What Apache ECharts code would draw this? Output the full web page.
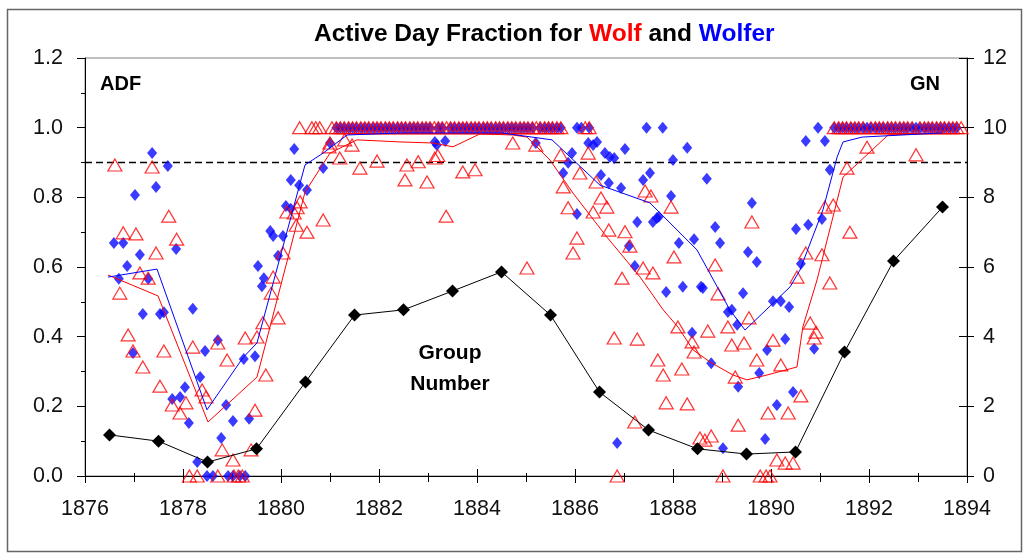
<!DOCTYPE html>
<html>
<head>
<meta charset="utf-8">
<script src="https://cdn.jsdelivr.net/npm/echarts@6/dist/echarts.min.js"></script>
<style>
  html, body { margin: 0; padding: 0; background: #fff; }
  #chart { width: 1030px; height: 554px; }
</style>
</head>
<body>
<div id="chart"></div>
<script>
// Monthly active day fraction, Wolf (red triangles) — months below 1.0
const wolfMonthly = [
  [1876.61,0.893],[1877.37,0.887],[1876.78,0.698],[1877.04,0.695],[1877.71,0.746],[1877.87,0.680],
  [1877.45,0.640],[1877.12,0.583],[1877.29,0.568],[1876.71,0.525],[1876.88,0.405],[1876.98,0.359],
  [1877.18,0.313],[1877.61,0.359],[1877.53,0.258],[1877.78,0.204],[1877.94,0.181],[1878.06,0.210],
  [1878.20,0.370],[1878.39,0.247],[1878.47,0.227],[1878.71,0.382],[1878.90,0.333],[1879.27,0.396],
  [1879.51,0.399],[1879.69,0.290],[1879.47,0.189],[1878.80,0.075],[1879.02,0.046],[1879.39,0.075],
  [1879.94,0.454],[1879.63,0.440],[1878.13,0],[1878.29,0],[1878.71,0],[1879.04,0],[1879.13,0],[1879.21,0],
  [1880.98,0.945],[1881.00,0.956],[1881.30,0.965],[1881.45,0.950],[1881.20,0.913],[1881.61,0.884],
  [1881.96,0.904],[1882.57,0.893],[1882.53,0.850],[1880.39,0.787],[1880.33,0.770],[1880.12,0.758],
  [1880.27,0.755],[1880.31,0.720],[1880.53,0.700],[1880.86,0.735],[1880.04,0.640],[1879.84,0.571],
  [1879.80,0.525],[1882.80,0.902],[1882.98,0.844],[1883.14,0.913],[1883.20,0.920],[1883.71,0.873],
  [1883.96,0.879],[1883.37,0.746],[1884.73,0.956],[1885.20,0.950],[1885.02,0.597],[1885.71,0.922],
  [1886.10,0.870],[1885.76,0.830],[1885.86,0.770],[1886.37,0.758],[1886.27,0.927],[1886.43,0.844],
  [1886.53,0.798],[1886.65,0.772],[1886.04,0.683],[1885.96,0.640],[1886.69,0.706],[1887.02,0.701],
  [1887.12,0.660],[1886.96,0.568],[1887.39,0.597],[1887.59,0.583],[1887.43,0.818],[1887.55,0.804],
  [1887.96,0.772],[1888.02,0.629],[1888.86,0.606],[1888.92,0.523],[1886.80,0.396],[1887.27,0.393],
  [1887.69,0.333],[1887.80,0.290],[1888.18,0.307],[1888.10,0.428],[1888.39,0.385],[1888.43,0.356],
  [1888.71,0.416],[1889.12,0.428],[1889.20,0.376],[1889.27,0.284],[1887.86,0.210],[1888.29,0.207],
  [1887.22,0.155],[1888.55,0.109],[1888.65,0.103],[1888.78,0.115],[1889.33,0.146],[1886.86,0],[1889.02,0],
  [1889.61,0.729],[1891.10,0.772],[1891.27,0.778],[1890.71,0.640],[1891.04,0.635],[1890.53,0.571],
  [1891.20,0.554],[1889.55,0.454],[1889.45,0.382],[1890.04,0.390],[1890.80,0.439],[1890.92,0.413],
  [1890.88,0.396],[1889.71,0.333],[1890.20,0.319],[1890.61,0.230],[1889.94,0.181],[1890.35,0.181],
  [1890.12,0.046],[1890.29,0.037],[1890.45,0.037],[1889.78,0],[1889.90,0],[1889.98,0],
  [1891.96,0.944],[1891.55,0.884],[1892.96,0.922],[1891.61,0.700]
];
// Wolf months with every day active
const wolfFullMonths = [
  [1880.38,1],[1880.63,1],[1880.71,1],[1880.79,1],
  [1881.04,1],[1881.13,1],[1881.21,1],[1881.29,1],[1881.38,1],[1881.46,1],[1881.54,1],[1881.63,1],[1881.71,1],[1881.79,1],[1881.88,1],[1881.96,1],
  [1882.04,1],[1882.13,1],[1882.21,1],[1882.29,1],[1882.38,1],[1882.46,1],[1882.54,1],[1882.63,1],[1882.71,1],[1882.79,1],[1882.88,1],[1882.96,1],
  [1883.04,1],[1883.13,1],[1883.21,1],[1883.29,1],[1883.38,1],[1883.46,1],[1883.54,1],[1883.63,1],[1883.71,1],[1883.79,1],[1883.88,1],[1883.96,1],
  [1884.04,1],[1884.13,1],[1884.21,1],[1884.29,1],[1884.38,1],[1884.46,1],[1884.54,1],[1884.63,1],[1884.71,1],[1884.79,1],[1884.88,1],[1884.96,1],
  [1885.04,1],[1885.13,1],[1885.21,1],[1885.29,1],[1885.38,1],[1885.46,1],[1885.54,1],[1885.63,1],[1885.71,1],
  [1886.21,1],[1886.29,1],
  [1891.29,1],[1891.38,1],[1891.46,1],[1891.54,1],[1891.63,1],[1891.71,1],[1891.79,1],[1891.88,1],
  [1892.04,1],[1892.13,1],[1892.21,1],[1892.29,1],[1892.38,1],[1892.46,1],[1892.54,1],[1892.63,1],[1892.71,1],[1892.79,1],[1892.88,1],
  [1893.04,1],[1893.13,1],[1893.21,1],[1893.29,1],[1893.38,1],[1893.46,1],[1893.54,1],[1893.63,1],[1893.71,1],[1893.79,1],[1893.88,1]
];
// Monthly active day fraction, Wolfer (blue diamonds) — months below 1.0
const wolferMonthly = [
  [1877.37,0.927],[1877.69,0.890],[1877.45,0.830],[1877.02,0.807],[1876.59,0.669],[1876.78,0.669],
  [1877.12,0.635],[1877.86,0.652],[1876.86,0.603],[1876.69,0.566],[1877.29,0.566],[1877.18,0.465],
  [1877.53,0.465],[1877.61,0.470],[1878.20,0.480],[1878.45,0.359],[1878.71,0.390],[1879.24,0.336],
  [1879.47,0.344],[1878.35,0.284],[1878.04,0.255],[1877.94,0.227],[1877.78,0.221],[1878.12,0.152],
  [1878.88,0.204],[1879.02,0.158],[1879.35,0.164],[1878.78,0.109],[1878.29,0.040],[1879.61,0.545],
  [1876.98,0.353],[1878.49,0],[1878.61,0],[1878.92,0],[1879.02,0],[1879.16,0],[1879.27,0],
  [1880.27,0.939],[1880.86,0.884],[1880.20,0.850],[1880.37,0.835],[1880.53,0.821],[1880.10,0.775],
  [1880.20,0.767],[1879.78,0.703],[1879.84,0.689],[1880.04,0.689],[1879.94,0.632],[1879.53,0.603],
  [1879.65,0.568],[1881.00,0.956],[1883.14,0.959],[1883.35,0.962],[1883.18,0.950],[1885.20,0.956],
  [1885.94,0.927],[1885.86,0.899],[1885.76,0.870],[1886.04,0.752],[1886.27,0.956],[1886.37,0.950],
  [1886.45,0.959],[1886.61,0.927],[1886.71,0.916],[1886.80,0.913],[1887.02,0.939],[1886.53,0.864],
  [1886.69,0.841],[1886.94,0.827],[1887.53,0.870],[1887.39,0.850],[1888.29,0.942],[1888.00,0.907],
  [1888.69,0.853],[1887.96,0.804],[1887.27,0.729],[1887.59,0.729],[1887.67,0.741],[1887.71,0.744],
  [1888.86,0.715],[1888.43,0.680],[1888.12,0.669],[1887.10,0.660],[1887.22,0.603],[1887.86,0.528],
  [1888.20,0.543],[1888.57,0.543],[1888.61,0.540],[1889.12,0.471],[1889.20,0.477],[1889.31,0.434],
  [1888.39,0.411],[1888.78,0.324],[1889.33,0.256],[1886.86,0.095],[1889.02,0.080],
  [1890.71,0.962],[1891.10,0.962],[1891.20,0.879],[1889.61,0.784],[1888.96,0.669],[1891.04,0.738],
  [1890.76,0.721],[1890.51,0.709],[1889.53,0.643],[1889.71,0.614],[1890.61,0.609],[1889.43,0.525],
  [1890.04,0.502],[1890.20,0.502],[1890.37,0.485],[1890.29,0.393],[1890.88,0.365],[1889.92,0.362],
  [1889.76,0.296],[1890.45,0.241],[1890.12,0.204],[1889.88,0.106]
];
// Wolfer months with every day active
const wolferFullMonths = [
  [1881.13,1],[1881.21,1],[1881.29,1],[1881.38,1],[1881.46,1],[1881.54,1],[1881.63,1],[1881.71,1],[1881.79,1],[1881.88,1],[1881.96,1],
  [1882.04,1],[1882.13,1],[1882.21,1],[1882.29,1],[1882.38,1],[1882.46,1],[1882.54,1],[1882.63,1],[1882.71,1],[1882.79,1],[1882.88,1],[1882.96,1],
  [1883.04,1],[1883.21,1],[1883.29,1],[1883.46,1],[1883.54,1],[1883.63,1],[1883.71,1],[1883.79,1],[1883.88,1],[1883.96,1],
  [1884.04,1],[1884.13,1],[1884.21,1],[1884.29,1],[1884.38,1],[1884.46,1],[1884.54,1],[1884.63,1],[1884.71,1],[1884.79,1],[1884.88,1],[1884.96,1],
  [1885.04,1],[1885.13,1],[1885.29,1],[1885.38,1],[1885.46,1],[1885.54,1],[1885.63,1],[1885.71,1],
  [1886.04,1],[1886.13,1],[1886.29,1],[1887.46,1],[1887.79,1],[1890.96,1],
  [1891.29,1],[1891.38,1],[1891.46,1],[1891.54,1],[1891.63,1],[1891.71,1],[1891.79,1],[1891.88,1],[1891.96,1],
  [1892.04,1],[1892.13,1],[1892.21,1],[1892.29,1],[1892.38,1],[1892.46,1],[1892.54,1],[1892.63,1],[1892.71,1],[1892.79,1],[1892.88,1],[1892.96,1],
  [1893.04,1],[1893.13,1],[1893.21,1],[1893.29,1],[1893.38,1],[1893.46,1],[1893.54,1],[1893.63,1],[1893.71,1],[1893.79,1]
];
// Smoothed ADF curves
const wolfSmooth = [
  [1876.47,0.577],[1877.49,0.517],[1878.51,0.155],[1879.51,0.284],[1880.49,0.815],[1881.00,0.927],
  [1881.55,0.965],[1882.43,0.959],[1883.10,0.956],[1883.51,0.945],[1884.06,0.982],[1884.73,0.979],
  [1885.02,0.973],[1885.49,0.907],[1885.96,0.812],[1886.65,0.686],[1887.33,0.571],[1887.80,0.477],
  [1888.10,0.428],[1888.41,0.362],[1888.76,0.327],[1889.22,0.290],[1889.51,0.276],[1889.92,0.290],
  [1890.53,0.313],[1890.65,0.428],[1890.94,0.563],[1891.47,0.858],[1892.39,0.979],[1893.50,0.985]
];
const wolferSmooth = [
  [1876.47,0.571],[1877.47,0.594],[1878.49,0.190],[1879.22,0.339],[1879.51,0.382],[1880.49,0.893],
  [1880.86,0.927],[1881.35,0.979],[1882.50,0.985],[1884.50,0.985],[1885.12,0.973],[1885.53,0.965],
  [1886.51,0.835],[1887.53,0.784],[1888.49,0.649],[1889.16,0.477],[1889.47,0.419],[1890.39,0.543],
  [1890.59,0.591],[1891.06,0.764],[1891.35,0.916],[1891.47,0.959],[1891.86,0.973],[1893.50,0.985]
];
// Yearly group number (right axis)
const groupNumber = [
  [1876.5,1.18],[1877.5,1.00],[1878.5,0.40],[1879.5,0.78],[1880.5,2.70],[1881.5,4.62],[1882.5,4.77],
  [1883.5,5.31],[1884.5,5.86],[1885.5,4.62],[1886.5,2.41],[1887.5,1.32],[1888.5,0.78],[1889.5,0.63],
  [1890.5,0.69],[1891.5,3.56],[1892.5,6.17],[1893.5,7.72]
];
const threshold = [[1876,0.9],[1894,0.9]];

const FONT = '"Liberation Sans", Arial, sans-serif';
const chart = echarts.init(document.getElementById('chart'), null, { renderer: 'canvas' });

const xCommon = { type: 'value', min: 1876, max: 1894, interval: 2, splitLine: { show: false } };

chart.setOption({
  animation: false,
  backgroundColor: '#fff',
  title: {
    text: '{k|Active Day Fraction for }{r|Wolf}{k| and }{b|Wolfer}',
    left: 309, top: 17,
    textStyle: {
      rich: {
        k: { fontFamily: FONT, fontWeight: 'bold', fontSize: 24.5, color: '#000' },
        r: { fontFamily: FONT, fontWeight: 'bold', fontSize: 24.5, color: '#ff0000' },
        b: { fontFamily: FONT, fontWeight: 'bold', fontSize: 24.5, color: '#0000ff' }
      }
    }
  },
  grid: { left: 85, right: 63, top: 58, bottom: 78, show: true, borderColor: '#808080', borderWidth: 1 },
  xAxis: [
    Object.assign({}, xCommon, {
      position: 'bottom',
      axisLine: { lineStyle: { color: '#000', width: 1 } },
      axisTick: { inside: false, length: 7, lineStyle: { color: '#000' } },
      minorTick: { show: true, splitNumber: 2, length: 6, lineStyle: { color: '#000' } },
      axisLabel: { fontFamily: FONT, fontSize: 21.5, color: '#111', margin: 22,
        formatter: v => String(v) }
    }),
    Object.assign({}, xCommon, {
      position: 'bottom',
      axisLine: { show: false },
      axisTick: { inside: true, length: 7, lineStyle: { color: '#000' } },
      minorTick: { show: true, splitNumber: 2, length: 3, lineStyle: { color: '#000' } },
      axisLabel: { show: false }
    })
  ],
  yAxis: [
    {
      type: 'value', position: 'left', min: 0, max: 1.2, interval: 0.2,
      splitLine: { show: false },
      axisLine: { show: true, lineStyle: { color: '#000', width: 1 } },
      axisTick: { show: true, inside: false, length: 8, lineStyle: { color: '#000' } },
      minorTick: { show: true, splitNumber: 2, length: 4, lineStyle: { color: '#000' } },
      axisLabel: { fontFamily: FONT, fontSize: 21.5, color: '#111', margin: 22,
        formatter: v => v.toFixed(1) }
    },
    {
      type: 'value', position: 'right', min: 0, max: 12, interval: 2,
      splitLine: { show: false },
      axisLine: { show: true, lineStyle: { color: '#000', width: 1 } },
      axisTick: { show: true, inside: false, length: 7, lineStyle: { color: '#000' } },
      axisLabel: { fontFamily: FONT, fontSize: 21.5, color: '#111', margin: 16 }
    },
    {
      type: 'value', position: 'right', offset: 0, min: 0, max: 12, interval: 2,
      splitLine: { show: false },
      axisLine: { show: false },
      axisTick: { show: true, inside: true, length: 8, lineStyle: { color: '#000' } },
      axisLabel: { show: false }
    }
  ],
  graphic: [
    { type: 'rect', silent: true, shape: { x: 7.5, y: 9.5, width: 1014, height: 542 },
      style: { fill: 'none', stroke: '#666', lineWidth: 1.5 } },
    { type: 'text', left: 100, top: 74,
      style: { text: 'ADF', font: 'bold 20px ' + FONT, fill: '#000' } },
    { type: 'text', left: 910, top: 74,
      style: { text: 'GN', font: 'bold 20px ' + FONT, fill: '#000' } },
    { type: 'text', x: 450, y: 338,
      style: { text: 'Group\nNumber', font: 'bold 21px ' + FONT, fill: '#000',
        align: 'center', lineHeight: 31 } }
  ],
  series: [
    {
      name: 'Wolfer', type: 'scatter', xAxisIndex: 0, yAxisIndex: 0,
      data: wolferMonthly.concat(wolferFullMonths),
      symbol: 'diamond', symbolSize: [10, 12],
      itemStyle: { color: '#0a0aff' },
      z: 3
    },
    {
      name: 'Wolf', type: 'scatter', xAxisIndex: 0, yAxisIndex: 0,
      data: wolfMonthly.concat(wolfFullMonths),
      symbol: 'triangle', symbolSize: [14, 12],
      itemStyle: { color: 'rgba(255,255,255,0)', borderColor: '#ff0000', borderWidth: 1.2 },
      z: 4
    },
    {
      name: 'Wolf smoothed', type: 'line', xAxisIndex: 0, yAxisIndex: 0,
      data: wolfSmooth, showSymbol: false, symbol: 'none',
      lineStyle: { color: '#ff0000', width: 1 }, z: 5
    },
    {
      name: 'Wolfer smoothed', type: 'line', xAxisIndex: 0, yAxisIndex: 0,
      data: wolferSmooth, showSymbol: false, symbol: 'none',
      lineStyle: { color: '#0000ff', width: 1 }, z: 5
    },
    {
      name: 'GN', type: 'line', xAxisIndex: 0, yAxisIndex: 1,
      data: groupNumber, symbol: 'diamond', symbolSize: 13,
      itemStyle: { color: '#000' }, lineStyle: { color: '#000', width: 1 }, z: 6
    },
    {
      name: 'threshold', type: 'line', xAxisIndex: 0, yAxisIndex: 0,
      data: threshold, symbol: 'none',
      lineStyle: { color: '#000', width: 1.5, type: [7, 4] }, z: 2
    }
  ]
});
</script>
</body>
</html>
